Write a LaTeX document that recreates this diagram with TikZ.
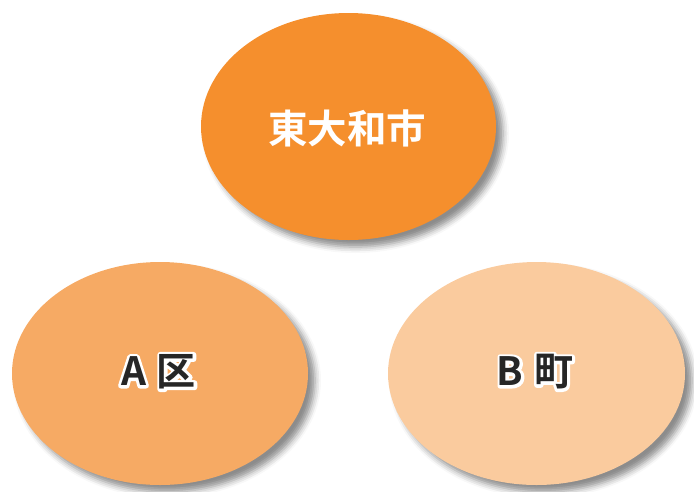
\documentclass[tikz,border=0pt]{standalone}
\usepackage{fontspec}
\newfontfamily\cjk{Noto Sans CJK JP Bold}
\usetikzlibrary{shapes.geometric,shadows.blur}
\definecolor{topor}{RGB}{245,143,45}
\definecolor{leftor}{RGB}{246,170,100}
\definecolor{rightor}{RGB}{250,203,158}
\newcommand{\halo}[1]{\makebox[0pt][l]{\color{white}\special{pdf:literal direct 1 1 1 RG 5.5 w 1 j 2 Tr}#1\special{pdf:literal direct 0 Tr}}{\color{black!85}#1}}
\begin{document}
\begin{tikzpicture}[x=1pt,y=-1pt,
  bubble/.style={ellipse, inner sep=0pt, blur shadow={shadow xshift=7pt, shadow yshift=-7pt, shadow blur radius=6pt, shadow opacity=45}},
  lab/.style={font=\cjk\fontsize{39}{39}\selectfont}]
\useasboundingbox (0,0) rectangle (694,491);
\node[bubble, fill=topor, minimum width=295pt, minimum height=227pt] (top) at (348.5,126.5) {};
\node[bubble, fill=leftor, minimum width=296pt, minimum height=223pt] (left) at (160,373.5) {};
\node[bubble, fill=rightor, minimum width=297pt, minimum height=223pt] (right) at (536.5,373.5) {};
\node[font=\cjk\fontsize{39.5}{39.5}\selectfont, text=white] (toptext) at (347,128) {東大和市};
\node[lab] (lefttext) at (158.5,372) {\halo{A\hspace{11pt}区}};
\node[lab] (righttext) at (535,372) {\halo{B\hspace{11pt}町}};
\end{tikzpicture}
\end{document}
